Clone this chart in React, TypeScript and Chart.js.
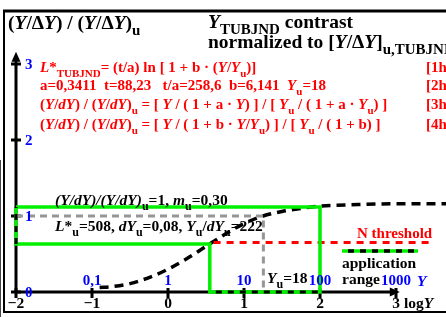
import React, { useEffect, useRef } from 'react';
import { Chart, registerables } from 'chart.js';
Chart.register(...registerables);

// ---- data ----
const xTickValues = [-2, -1, 0, 1, 2, 3];
const xTickLabels = ['−2', '−1', '0', '1', '2', '3'];
const yTickValues = [0, 1, 2, 3];
const yTickLabels = ['0', '1', '2', '3'];
const linTickValues = [-1, 0, 1, 2, 3];
const linTickLabels = ['0,1', '1', '10', '100', '1000'];

const curveLogY = [-0.9, -0.75, -0.5, -0.25, 0, 0.25, 0.5, 0.75, 1, 1.25, 1.5, 1.75, 2, 2.5, 3, 3.5, 3.7];
const curveRatio = [0.06, 0.07, 0.11, 0.19, 0.3, 0.44, 0.6, 0.76, 0.9, 1.0, 1.06, 1.1, 1.13, 1.15, 1.16, 1.16, 1.16];

const rangeLogY = [-2, 2, 2, 0.55, 0.55, -2, -2];
const rangeRatio = [1.12, 1.12, 0, 0, 0.63, 0.63, 1.12];

const refLogY = [-2, 1.255, 1.255];
const refRatio = [1, 1, 0];

const thresholdLogY = [0.6, 3.45];
const thresholdRatio = [0.65, 0.65];

const X_MIN = -2;
const X_MAX = -2 + 430 / 76;
const Y_MAX = 280 / 76;

const FONT = '"Liberation Serif", "Times New Roman", serif';
const BLUE = '#0000ff';
const RED = '#ff0000';
const GREEN = 'rgb(0,240,0)';

type Seg = [string, string?];

function rich(ctx: CanvasRenderingContext2D, x: number, y: number, segs: Seg[], size: number, color: string) {
  let cx = x;
  ctx.textAlign = 'left';
  ctx.textBaseline = 'alphabetic';
  for (const [t, f = ''] of segs) {
    const sub = f.includes('s');
    const it = f.includes('i');
    const sz = sub ? Math.round(size * 0.75) : size;
    ctx.font = `${it ? 'italic ' : ''}bold ${sz}px ${FONT}`;
    ctx.fillStyle = color;
    ctx.fillText(t, cx, y + (sub ? size * 0.3 : 0));
    cx += ctx.measureText(t).width;
  }
  return cx;
}

const decor = {
  id: 'decor',
  beforeDatasetsDraw(chart: any) {
    const ctx: CanvasRenderingContext2D = chart.ctx;
    const xs = chart.scales.x;
    const ys = chart.scales.y;
    const px = (v: number) => xs.getPixelForValue(v);
    const py = (v: number) => ys.getPixelForValue(v);
    ctx.save();
    // frame
    ctx.strokeStyle = '#000';
    ctx.lineWidth = 3;
    ctx.beginPath();
    ctx.moveTo(3, 11);
    ctx.lineTo(446, 11);
    ctx.stroke();
    ctx.lineWidth = 2;
    ctx.beginPath();
    ctx.moveTo(4, 11);
    ctx.lineTo(4, 312);
    ctx.lineTo(446, 312);
    ctx.stroke();
    ctx.lineWidth = 1;
    ctx.strokeStyle = '#444';
    ctx.beginPath();
    ctx.moveTo(0.5, 160);
    ctx.lineTo(0.5, 317);
    ctx.stroke();

    // axes
    ctx.strokeStyle = '#000';
    ctx.fillStyle = '#000';
    ctx.lineWidth = 3;
    const x0 = px(-2);
    const y0 = py(0);
    const yTip = py(3.16);
    const xTip = px(3.05);
    ctx.beginPath();
    ctx.moveTo(x0, y0);
    ctx.lineTo(x0, yTip + 8);
    ctx.moveTo(x0, y0);
    ctx.lineTo(xTip - 8, y0);
    ctx.stroke();
    ctx.beginPath();
    ctx.moveTo(x0, yTip);
    ctx.lineTo(x0 - 4.5, yTip + 10);
    ctx.lineTo(x0 + 4.5, yTip + 10);
    ctx.closePath();
    ctx.fill();
    ctx.beginPath();
    ctx.moveTo(xTip, y0);
    ctx.lineTo(xTip - 10, y0 - 4.5);
    ctx.lineTo(xTip - 10, y0 + 4.5);
    ctx.closePath();
    ctx.fill();
    // ticks
    ctx.lineWidth = 3;
    ctx.beginPath();
    for (const v of yTickValues) {
      ctx.moveTo(x0 - 5, py(v));
      ctx.lineTo(x0 + 5, py(v));
    }
    for (const v of xTickValues) {
      ctx.moveTo(px(v), y0 - 4);
      ctx.lineTo(px(v), y0 + 6);
    }
    ctx.stroke();
    ctx.restore();
  },
  afterDatasetsDraw(chart: any) {
    const ctx: CanvasRenderingContext2D = chart.ctx;
    const xs = chart.scales.x;
    const ys = chart.scales.y;
    const px = (v: number) => xs.getPixelForValue(v);
    const py = (v: number) => ys.getPixelForValue(v);
    ctx.save();
    // black dashes over the green range where it runs along the axes
    ctx.strokeStyle = '#000';
    ctx.lineWidth = 3;
    ctx.setLineDash([6, 6]);
    ctx.beginPath();
    ctx.moveTo(px(rangeLogY[3]) + 6, py(0));
    ctx.lineTo(px(rangeLogY[1]), py(0));
    ctx.moveTo(px(-2), py(rangeRatio[4]));
    ctx.lineTo(px(-2), py(rangeRatio[0]));
    ctx.stroke();
    ctx.setLineDash([]);

    // application range legend
    ctx.lineWidth = 3.5;
    ctx.strokeStyle = GREEN;
    ctx.beginPath();
    ctx.moveTo(342, 251);
    ctx.lineTo(418, 251);
    ctx.stroke();
    ctx.strokeStyle = '#000';
    ctx.setLineDash([6, 6]);
    ctx.beginPath();
    ctx.moveTo(348, 251);
    ctx.lineTo(418, 251);
    ctx.stroke();
    ctx.setLineDash([]);

    // texts
    const K = '#000';
    const ts = 19.5;
    rich(ctx, 8, 29, [['('], ['Y', 'i'], ['/Δ'], ['Y', 'i'], [') / ('], ['Y', 'i'], ['/Δ'], ['Y', 'i'], [')'], ['u', 's']], ts, K);
    rich(ctx, 208, 28, [['Y', 'i'], ['TUBJND', 's'], [' contrast']], ts, K);
    rich(ctx, 208, 48, [['normalized to ['], ['Y', 'i'], ['/Δ'], ['Y', 'i'], [']'], ['u,TUBJND', 's']], ts, K);

    const rs = 15;
    rich(ctx, 40, 72, [['L', 'i'], ['*'], ['TUBJND', 's'], ['= (t/a) ln [ 1 + b · ('], ['Y', 'i'], ['/'], ['Y', 'i'], ['u', 's'], [')]']], rs, RED);
    rich(ctx, 40, 90, [['a=0,3411  t=88,23   t/a=258,6  b=6,141  '], ['Y', 'i'], ['u', 's'], ['=18']], rs, RED);
    rich(ctx, 40, 109, [['('], ['Y', 'i'], ['/'], ['dY', 'i'], [') / ('], ['Y', 'i'], ['/'], ['dY', 'i'], [')'], ['u', 's'], [' = [ '], ['Y', 'i'], [' / ( 1 + a · '], ['Y', 'i'], [') ] / [ '], ['Y', 'i'], ['u', 's'], [' / ( 1 + a · '], ['Y', 'i'], ['u', 's'], [') ]']], rs, RED);
    rich(ctx, 40, 129, [['('], ['Y', 'i'], ['/'], ['dY', 'i'], [') / ('], ['Y', 'i'], ['/'], ['dY', 'i'], [')'], ['u', 's'], [' = [ '], ['Y', 'i'], [' / ( 1 + b · '], ['Y', 'i'], ['/'], ['Y', 'i'], ['u', 's'], [') ] / [ '], ['Y', 'i'], ['u', 's'], [' / ( 1 + b) ]']], rs, RED);
    rich(ctx, 426, 72, [['[1h']], rs, RED);
    rich(ctx, 426, 90, [['[2h']], rs, RED);
    rich(ctx, 426, 109, [['[3h']], rs, RED);
    rich(ctx, 426, 129, [['[4h']], rs, RED);

    const bs = 15.5;
    rich(ctx, 55, 205, [['(Y/dY)/(Y/dY)', 'i'], ['u', 's'], ['=1, '], ['m', 'i'], ['u', 's'], ['=0,30']], bs, K);
    rich(ctx, 55, 231, [['L', 'i'], ['*'], ['u', 's'], ['=508, '], ['dY', 'i'], ['u', 's'], ['=0,08, '], ['Y', 'i'], ['u', 's'], ['/'], ['dY', 'i'], ['u', 's'], ['=222']], bs, K);
    rich(ctx, 267, 283, [['Y', 'i'], ['u', 's'], ['=18']], bs, K);

    rich(ctx, 357, 238, [['N threshold']], 15, RED);
    rich(ctx, 342, 268, [['application']], 15.5, K);
    rich(ctx, 342, 284, [['range']], 15.5, K);

    // blue y tick labels
    ctx.font = `bold 15px ${FONT}`;
    ctx.fillStyle = BLUE;
    ctx.textAlign = 'left';
    ctx.textBaseline = 'middle';
    yTickValues.forEach((v, i) => ctx.fillText(yTickLabels[i], px(-2) + 9, py(v) + 1));
    // blue linear Y labels
    ctx.textAlign = 'center';
    ctx.textBaseline = 'alphabetic';
    linTickValues.forEach((v, i) => ctx.fillText(linTickLabels[i], px(v), 285));
    rich(ctx, px(3) + 21, 286, [['Y', 'i']], 15.5, BLUE);
    // black x tick labels
    ctx.font = `bold 15.5px ${FONT}`;
    ctx.fillStyle = '#000';
    ctx.textAlign = 'center';
    xTickValues.forEach((v, i) => ctx.fillText(xTickLabels[i], px(v), 308));
    rich(ctx, px(3) + 4, 308, [[' log'], ['Y', 'i']], 15.5, K);
    ctx.restore();
  },
};

export default function App() {
  const ref = useRef<HTMLCanvasElement>(null);
  useEffect(() => {
    if (!ref.current) return;
    const pts = (xs: number[], ys: number[]) => xs.map((x, i) => ({ x, y: ys[i] }));
    const chart = new Chart(ref.current, {
      type: 'scatter',
      data: {
        datasets: [
          {
            data: pts(refLogY, refRatio),
            showLine: true,
            borderColor: 'rgb(150,150,150)',
            borderWidth: 3,
            borderDash: [7, 5],
            pointRadius: 0,
            clip: false as any,
          },
          {
            data: pts(rangeLogY, rangeRatio),
            showLine: true,
            borderColor: GREEN,
            borderWidth: 3.5,
            pointRadius: 0,
            clip: false as any,
          },
          {
            data: pts(thresholdLogY, thresholdRatio),
            showLine: true,
            borderColor: RED,
            borderWidth: 3,
            borderDash: [7, 6],
            pointRadius: 0,
            clip: false as any,
          },
          {
            data: pts(curveLogY, curveRatio),
            showLine: true,
            borderColor: '#000',
            borderWidth: 3.5,
            borderDash: [9, 6],
            cubicInterpolationMode: 'monotone',
            pointRadius: 0,
            clip: false as any,
          },
        ],
      },
      options: {
        responsive: false,
        animation: false,
        layout: { padding: { left: 16, right: 0, top: 12, bottom: 25 } },
        scales: {
          x: { type: 'linear', min: X_MIN, max: X_MAX, display: false },
          y: { type: 'linear', min: 0, max: Y_MAX, display: false },
        },
        plugins: { legend: { display: false }, tooltip: { enabled: false } },
      },
      plugins: [decor],
    });
    return () => chart.destroy();
  }, []);
  return (
    <div style={{ position: 'fixed', left: 0, top: 0, width: 446, height: 317, background: '#fff' }}>
      <canvas ref={ref} width={446} height={317} style={{ display: 'block' }} />
    </div>
  );
}
